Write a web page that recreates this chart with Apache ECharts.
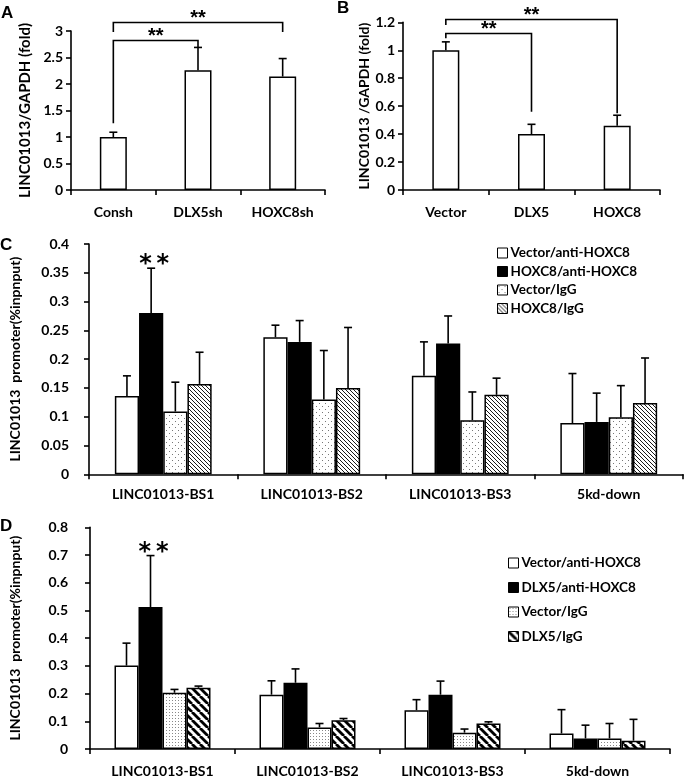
<!DOCTYPE html>
<html><head><meta charset="utf-8">
<script src="https://cdn.jsdelivr.net/npm/echarts@6/dist/echarts.min.js"></script>
<style>html,body{margin:0;padding:0;background:#fff}#chart{width:685px;height:778px}</style>
</head><body><div id="chart"></div>
<script>
// ---------- Panel A ----------
const catsA = ['Consh', 'DLX5sh', 'HOXC8sh'];
const valsA = [1.00, 2.26, 2.14];
const errTopA = [1.09, 2.69, 2.48];
// [fromCat, toCat, barY, leftEndY, rightEndY]
const bracketsA = [[0, 1, 2.82, 1.26, 2.69], [0, 2, 3.16, 2.98, 2.98]];

// ---------- Panel B ----------
const catsB = ['Vector', 'DLX5', 'HOXC8'];
const valsB = [1.00, 0.40, 0.46];
const errTopB = [1.06, 0.47, 0.535];
const bracketsB = [[0, 1, 1.12, 1.085, 0.56], [0, 2, 1.22, 1.18, 0.55]];

// ---------- Panel C ----------
const catsC = ['LINC01013-BS1', 'LINC01013-BS2', 'LINC01013-BS3', '5kd-down'];
const namesC = ['Vector/anti-HOXC8', 'HOXC8/anti-HOXC8', 'Vector/IgG', 'HOXC8/IgG'];
const vecAntiC = [0.136, 0.238, 0.171, 0.089];
const vecAntiErrC = [0.171, 0.259, 0.230, 0.175];
const hoxAntiC = [0.280, 0.230, 0.227, 0.091];
const hoxAntiErrC = [0.358, 0.267, 0.275, 0.141];
const vecIgGC = [0.109, 0.130, 0.094, 0.099];
const vecIgGErrC = [0.160, 0.215, 0.143, 0.154];
const hoxIgGC = [0.157, 0.150, 0.138, 0.124];
const hoxIgGErrC = [0.212, 0.255, 0.167, 0.202];
// significance: [category, seriesIndex]
const sigC = [[0, 1]];

// ---------- Panel D ----------
const catsD = ['LINC01013-BS1', 'LINC01013-BS2', 'LINC01013-BS3', '5kd-down'];
const namesD = ['Vector/anti-HOXC8 ', 'DLX5/anti-HOXC8', 'Vector/IgG ', 'DLX5/IgG'];
const vecAntiD = [0.301, 0.196, 0.140, 0.056];
const vecAntiErrD = [0.382, 0.246, 0.178, 0.142];
const dlxAntiD = [0.512, 0.239, 0.196, 0.038];
const dlxAntiErrD = [0.698, 0.289, 0.245, 0.086];
const vecIgGD = [0.203, 0.078, 0.059, 0.038];
const vecIgGErrD = [0.215, 0.092, 0.072, 0.092];
const dlxIgGD = [0.221, 0.104, 0.092, 0.030];
const dlxIgGErrD = [0.227, 0.110, 0.098, 0.107];
const sigD = [[0, 1]];

// ---------- patterns ----------
function tile(n, draw) {
  const c = document.createElement('canvas');
  c.width = n; c.height = n;
  const g = c.getContext('2d');
  g.fillStyle = '#fff'; g.fillRect(0, 0, n, n);
  draw(g, n);
  return { image: c, repeat: 'repeat' };
}
function diag(g, n, w) {
  g.strokeStyle = '#000'; g.lineWidth = w;
  for (const k of [-n, 0, n]) { g.beginPath(); g.moveTo(k, 0); g.lineTo(k + n, n); g.stroke(); }
}
const dotsC = tile(6, g => { g.fillStyle = '#777'; g.fillRect(1, 1, 1, 1); g.fillRect(4, 4, 1, 1); });
const hatchC = tile(4, (g, n) => diag(g, n, 0.9));
const dotsD = tile(3, g => { g.fillStyle = '#888'; g.fillRect(1, 1, 1, 1); });
const hatchD = tile(8, (g, n) => diag(g, n, 2.8));

const FONT = 'Lato';
const chart = echarts.init(document.getElementById('chart'));

function errRender(offsetPx, cap) {
  return function (params, api) {
    const x = api.value(0), v = api.value(1), e = api.value(2);
    const p0 = api.coord([x, v]), p1 = api.coord([x, e]);
    const cx = p0[0] + offsetPx;
    return { type: 'group', children: [
      { type: 'line', shape: { x1: cx, y1: p0[1], x2: cx, y2: p1[1] }, style: { stroke: '#000', lineWidth: 1.6 } },
      { type: 'line', shape: { x1: cx - cap / 2, y1: p1[1], x2: cx + cap / 2, y2: p1[1] }, style: { stroke: '#000', lineWidth: 1.6 } }
    ] };
  };
}
function bracketRender(fontSize, gap) {
  return function (params, api) {
    const x1 = api.value(0), x2 = api.value(1), yt = api.value(2), yl = api.value(3), yr = api.value(4);
    const a = api.coord([x1, yl]), b = api.coord([x1, yt]), c = api.coord([x2, yt]), d = api.coord([x2, yr]);
    return { type: 'group', children: [
      { type: 'polyline', shape: { points: [a, b, c, d] }, style: { stroke: '#000', lineWidth: 1.6, fill: null } },
      { type: 'text', x: (b[0] + c[0]) / 2, y: b[1] + gap,
        style: { text: '**', fontSize: fontSize, fontFamily: 'Liberation Sans', fontWeight: 'bold', align: 'center', verticalAlign: 'bottom', fill: '#000' } }
    ] };
  };
}
function sigRender(barW, nBars, fontSize, gap, errTops) {
  return function (params, api) {
    const cat = api.value(0), si = api.value(1);
    const e = errTops[si][cat];
    const p = api.coord([cat, e]);
    const cx = p[0] + (si - (nBars - 1) / 2) * barW + 3;
    return { type: 'text', x: cx, y: p[1] + gap,
      style: { text: '*\u2009*', fontSize: fontSize, fontFamily: 'DejaVu Sans', fontWeight: 'bold', align: 'center', verticalAlign: 'bottom', fill: '#000' } };
  };
}

function xAx(gi, cats, margin) {
  return { type: 'category', gridIndex: gi, data: cats,
    axisLine: { lineStyle: { color: '#000', width: 1.6 } },
    axisTick: { show: true, alignWithLabel: false, length: 5, lineStyle: { color: '#000', width: 1.6 } },
    axisLabel: { margin: margin, fontSize: 14, fontWeight: 'bold', fontFamily: FONT, color: '#000', interval: 0 } };
}
function yAx(gi, max, interval, name, nameGap, margin, fs, nfs) {
  return { type: 'value', gridIndex: gi, min: 0, max: max, interval: interval,
    name: name, nameLocation: 'middle', nameRotate: 90, nameGap: nameGap,
    nameTextStyle: { fontSize: nfs, fontWeight: 'bold', fontFamily: FONT, color: '#000' },
    axisLine: { show: true, lineStyle: { color: '#000', width: 1.6 } },
    axisTick: { show: true, length: 5, lineStyle: { color: '#000', width: 1.6 } },
    splitLine: { show: false },
    axisLabel: { margin: margin, fontSize: fs, fontWeight: 'bold', fontFamily: FONT, color: '#000' } };
}

const barBase = { type: 'bar', barGap: '0%', z: 2,
  itemStyle: { borderColor: '#000', borderWidth: 1.5 } };

const series = [];
// A
series.push(Object.assign({}, barBase, { xAxisIndex: 0, yAxisIndex: 0, data: valsA, barWidth: 27,
  itemStyle: { color: '#fff', borderColor: '#000', borderWidth: 1.5 } }));
series.push({ type: 'custom', xAxisIndex: 0, yAxisIndex: 0, z: 3, silent: true,
  data: catsA.map((c, i) => [i, valsA[i], errTopA[i]]), renderItem: errRender(0, 8) });
series.push({ type: 'custom', xAxisIndex: 0, yAxisIndex: 0, z: 3, silent: true,
  data: bracketsA, renderItem: bracketRender(20, 6) });
// B
series.push(Object.assign({}, barBase, { xAxisIndex: 1, yAxisIndex: 1, data: valsB, barWidth: 27,
  itemStyle: { color: '#fff', borderColor: '#000', borderWidth: 1.5 } }));
series.push({ type: 'custom', xAxisIndex: 1, yAxisIndex: 1, z: 3, silent: true,
  data: catsB.map((c, i) => [i, valsB[i], errTopB[i]]), renderItem: errRender(0, 8) });
series.push({ type: 'custom', xAxisIndex: 1, yAxisIndex: 1, z: 3, silent: true,
  data: bracketsB, renderItem: bracketRender(20, 6) });

function addGroup(gi, names, vals, errs, fills, barW, sig) {
  names.forEach((nm, i) => {
    series.push(Object.assign({}, barBase, { name: nm, xAxisIndex: gi, yAxisIndex: gi, data: vals[i], barWidth: barW,
      itemStyle: { color: fills[i], borderColor: '#000', borderWidth: 1.5 } }));
  });
  names.forEach((nm, i) => {
    series.push({ type: 'custom', xAxisIndex: gi, yAxisIndex: gi, z: 3, silent: true,
      data: vals[i].map((v, j) => [j, v, errs[i][j]]), renderItem: errRender((i - 1.5) * barW, 8) });
  });
  series.push({ type: 'custom', xAxisIndex: gi, yAxisIndex: gi, z: 3, silent: true,
    data: sig, renderItem: sigRender(barW, 4, 24, 9, errs) });
}
addGroup(2, namesC, [vecAntiC, hoxAntiC, vecIgGC, hoxIgGC], [vecAntiErrC, hoxAntiErrC, vecIgGErrC, hoxIgGErrC],
  ['#fff', '#000', dotsC, hatchC], 24.2, sigC);
addGroup(3, namesD, [vecAntiD, dlxAntiD, vecIgGD, dlxIgGD], [vecAntiErrD, dlxAntiErrD, vecIgGErrD, dlxIgGErrD],
  ['#fff', '#000', dotsD, hatchD], 24, sigD);

const letter = (t, l, tp) => ({ text: t, left: l, top: tp, padding: 0,
  textStyle: { fontFamily: 'Liberation Sans', fontWeight: 'bold', fontSize: 17, color: '#000' } });

const legendBase = { orient: 'vertical', icon: 'rect', itemWidth: 10, itemHeight: 10, padding: 0, selectedMode: false,
  itemStyle: { borderColor: '#000', borderWidth: 1 },
  textStyle: { fontSize: 13.5, fontWeight: 'bold', fontFamily: FONT, color: '#000', padding: [0, 0, 0, -2] } };

chart.setOption({
  animation: false,
  backgroundColor: '#fff',
  textStyle: { fontFamily: FONT },
  title: [letter('A', 1, 5), letter('B', 337, 0), letter('C', 0, 237), letter('D', 0, 518)],
  legend: [
    Object.assign({}, legendBase, { data: namesC, left: 497, top: 246, itemGap: 4.5 }),
    Object.assign({}, legendBase, { data: namesD, left: 508, top: 556, itemGap: 10.5 })
  ],
  grid: [
    { left: 71, top: 31, width: 254, height: 159 },
    { left: 403, top: 22.3, width: 257, height: 167.7 },
    { left: 82, top: 244, width: 601, height: 230.3 },
    { left: 85, top: 527.3, width: 585, height: 223.4 }
  ],
  xAxis: [xAx(0, catsA, 15), xAx(1, catsB, 15), xAx(2, catsC, 13), xAx(3, catsD, 15)],
  yAxis: [
    yAx(0, 3, 0.5, 'LINC01013/GAPDH (fold)', 38, 8, 14, 15),
    yAx(1, 1.2, 0.2, 'LINC01013 /GAPDH (fold)', 31, 8, 14, 14),
    yAx(2, 0.4, 0.05, 'LINC01013  promoter(%inpnput)', 67, 20, 14, 14),
    yAx(3, 0.8, 0.1, 'LINC01013  promoter(%inpnput)', 68, 22, 14, 14)
  ],
  series: series
});
</script></body></html>
